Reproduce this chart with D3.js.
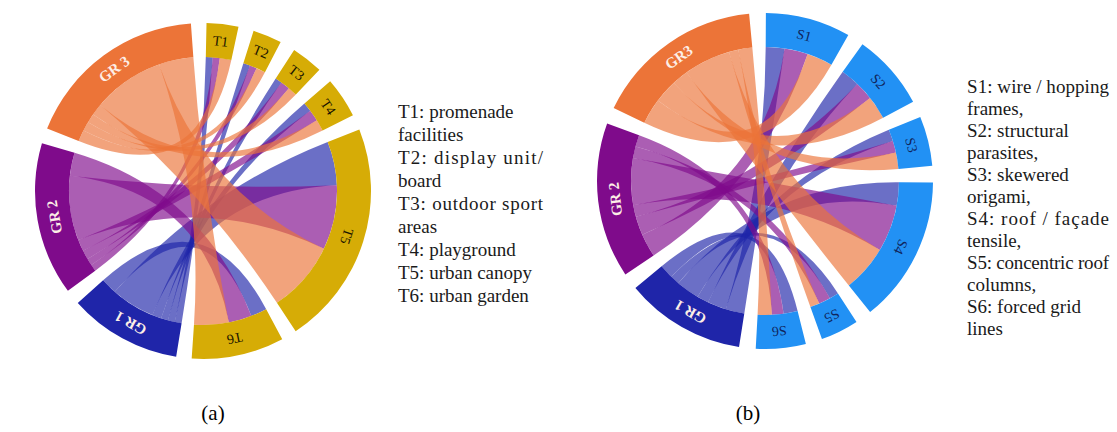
<!DOCTYPE html>
<head>
<meta charset="utf-8">
<script src="https://d3js.org/d3.v7.min.js"></script>
<style>
  body { margin: 0; background: #fff; }
  text { font-family: "Liberation Serif", "DejaVu Serif", serif; }
</style>
</head>
<body>
<svg width="1117" height="432"></svg>

<script type="text/javascript">
// groups on the left half of both diagrams
var groupNamesA = ["GR 1", "GR 2", "GR 3"];
var groupNamesB = ["GR 1", "GR 2", "GR3"];
var groupColors = ["#1f25a9", "#7f0b8b", "#ec7438"];

// (a) typologies, rows = GR 1..3, columns = T1..T6
var typesA = ["T1", "T2", "T3", "T4", "T5", "T6"];
var flowsA = [
  [3, 3, 3, 4, 19, 7],
  [3, 3, 4, 5, 28, 10],
  [5, 4, 4, 5, 31, 15]
];
var legendA = ["T1: promenade", "facilities", "T2: display unit/", "board",
  "T3: outdoor sport", "areas", "T4: playground", "T5: urban canopy", "T6: urban garden"];
var justifiedA = [2, 4];

// (b) structures, rows = GR 1..3, columns = S1..S6
var typesB = ["S1", "S2", "S3", "S4", "S5", "S6"];
var flowsB = [
  [8, 8, 5, 10, 4, 6],
  [10, 8, 5, 20, 5, 5],
  [11, 10, 7, 20, 4, 6]
];
var legendB = ["S1: wire / hopping", "frames,", "S2: structural", "parasites,",
  "S3: skewered", "origami,", "S4: roof / fa\u00e7ade", "tensile,",
  "S5: concentric roof", "columns,", "S6: forced grid", "lines"];
var justifiedB = [0, 6, 8];

var captions = ["(a)", "(b)"];

var svg = d3.select("svg");
var rIn = 134, rOut = 168;

function drawChord(types, names, flows, o) {
  var nt = types.length;
  var n = nt + names.length;
  // square matrix: only GR <-> T cells are filled
  var m = d3.range(n).map(function() { return d3.range(n).map(function() { return 0; }); });
  flows.forEach(function(row, gi) {
    row.forEach(function(v, ti) {
      m[ti][nt + gi] = v;
      m[nt + gi][ti] = v;
    });
  });
  var chords = d3.chord().padAngle(o.pad)(m);
  var labels = types.concat(names);
  var arc = d3.arc().innerRadius(rIn).outerRadius(rOut);
  var ribbon = d3.ribbon().radius(rIn);
  var grOf = function(c) { return Math.max(c.source.index, c.target.index) - nt; };

  var root = svg.append("g")
    .attr("transform", "translate(" + o.cx + "," + o.cy + ") rotate(" + o.rot + ")");

  // GR 1 first so the orange GR 3 ribbons end up on top
  var sorted = chords.slice().sort(function(a, b) { return grOf(a) - grOf(b); });
  root.append("g").selectAll("path")
    .data(sorted)
    .join("path")
      .attr("d", ribbon)
      .attr("fill", function(d) { return groupColors[grOf(d)]; })
      .attr("fill-opacity", 0.66);

  root.append("g").selectAll("path")
    .data(chords.groups)
    .join("path")
      .attr("d", arc)
      .attr("fill", function(d) { return d.index < nt ? o.typeColor : groupColors[d.index - nt]; });

  root.append("g").selectAll("text")
    .data(chords.groups)
    .join("text")
      .attr("transform", function(d) {
        return "rotate(" + ((d.startAngle + d.endAngle) / 2 * 180 / Math.PI) + ") translate(0," + (-(rIn + rOut) / 2) + ")";
      })
      .attr("text-anchor", "middle")
      .attr("dy", "0.35em")
      .attr("font-size", function(d) { return d.index < nt ? 14 : 15; })
      .attr("font-weight", function(d) { return d.index < nt ? "normal" : "bold"; })
      .attr("fill", function(d) { return d.index < nt ? o.typeText : "#fdeee6"; })
      .text(function(d) { return labels[d.index]; });
}

function drawLegend(lines, justified, x, y0, step, width) {
  svg.append("g").selectAll("text")
    .data(lines)
    .join("text")
      .attr("x", x)
      .attr("y", function(d, i) { return y0 + i * step; })
      .attr("font-size", 19)
      .attr("fill", "#1a1a1a")
      .attr("textLength", function(d, i) { return justified.indexOf(i) >= 0 ? width : null; })
      .attr("lengthAdjust", "spacing")
      .text(function(d) { return d; });
}

drawChord(typesA, groupNamesA, flowsA, { cx: 203, cy: 191, rot: 1.2, pad: 0.093, typeColor: "#d6ac06", typeText: "#1a1400" });
drawChord(typesB, groupNamesB, flowsB, { cx: 765, cy: 181, rot: 0.3, pad: 0.1, typeColor: "#2291f4", typeText: "#10255c" });

drawLegend(legendA, justifiedA, 398, 118, 23, 145);
drawLegend(legendB, justifiedB, 967, 93, 22, 142);

svg.append("g").selectAll("text")
  .data(captions)
  .join("text")
    .attr("x", function(d, i) { return i === 0 ? 213 : 748; })
    .attr("y", 420)
    .attr("text-anchor", "middle")
    .attr("font-size", 21)
    .text(function(d) { return d; });
</script>
</body>
</html>
